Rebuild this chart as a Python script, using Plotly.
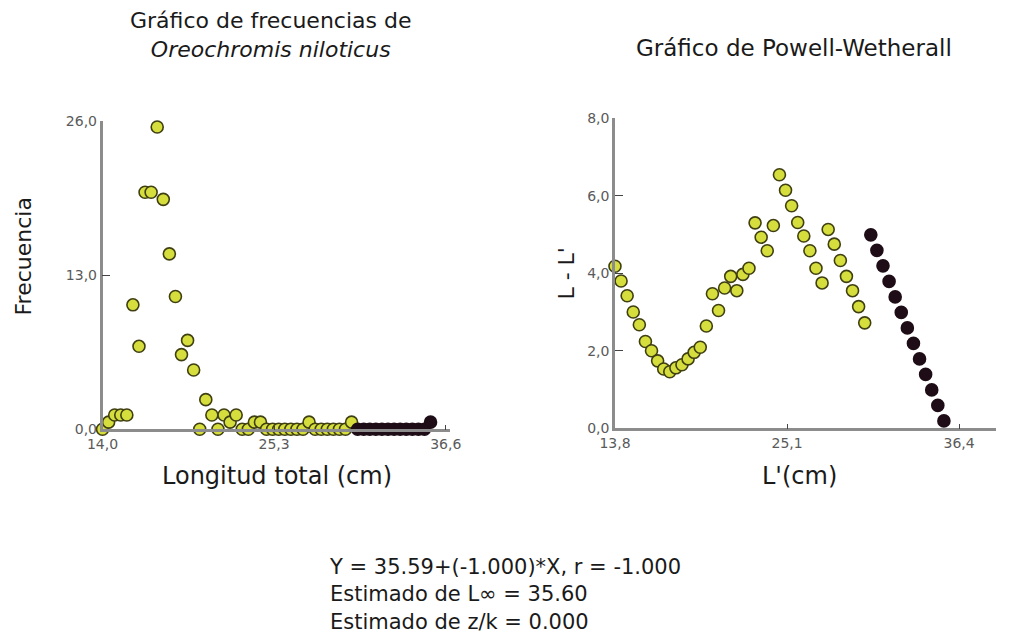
import plotly.graph_objects as go

W, H = 1013, 644

# Length-frequency sample of Oreochromis niloticus (class midpoints, cm)
class_mid = [14.0, 14.4, 14.8, 15.2, 15.6, 16.0, 16.4, 16.8, 17.2, 17.6,
             18.0, 18.4, 18.8, 19.2, 19.6, 20.0, 20.4, 20.8, 21.2, 21.6,
             22.0, 22.4, 22.8, 23.2, 23.6, 24.0, 24.4, 24.8, 25.2, 25.6,
             26.0, 26.4, 26.8, 27.2, 27.6, 28.0, 28.4, 28.8, 29.2, 29.6,
             30.0, 30.4, 30.8, 31.2, 31.6, 32.0, 32.4, 32.8, 33.2, 33.6,
             34.0, 34.4, 34.8, 35.2, 35.6]
frequency = [0.0, 0.6, 1.2, 1.2, 1.2, 10.5, 7.0, 20.0, 20.0, 25.5,
             19.4, 14.8, 11.2, 6.3, 7.5, 5.0, 0.0, 2.5, 1.2, 0.0,
             1.2, 0.6, 1.2, 0.0, 0.0, 0.6, 0.6, 0.0, 0.0, 0.0,
             0.0, 0.0, 0.0, 0.0, 0.6, 0.0, 0.0, 0.0, 0.0, 0.0,
             0.0, 0.6, 0.0, 0.0, 0.0, 0.0, 0.0, 0.0, 0.0, 0.0,
             0.0, 0.0, 0.0, 0.0, 0.6]

# Powell-Wetherall: lower class limit L' and (mean length above L') - L'
l_prime = [13.8, 14.2, 14.6, 15.0, 15.4, 15.8, 16.2, 16.6, 17.0, 17.4,
           17.8, 18.2, 18.6, 19.0, 19.4, 19.8, 20.2, 20.6, 21.0, 21.4,
           21.8, 22.2, 22.6, 23.0, 23.4, 23.8, 24.2, 24.6, 25.0, 25.4,
           25.8, 26.2, 26.6, 27.0, 27.4, 27.8, 28.2, 28.6, 29.0, 29.4,
           29.8, 30.2, 30.6, 31.0, 31.4, 31.8, 32.2, 32.6, 33.0, 33.4,
           33.8, 34.2, 34.6, 35.0, 35.4]
l_minus_lprime = [4.18, 3.80, 3.42, 3.00, 2.67, 2.24, 2.00, 1.74, 1.53, 1.46,
                  1.56, 1.64, 1.79, 1.96, 2.09, 2.64, 3.47, 3.04, 3.62, 3.92,
                  3.55, 3.97, 4.13, 5.30, 4.93, 4.58, 5.23, 6.54, 6.14, 5.74,
                  5.31, 4.96, 4.58, 4.13, 3.75, 5.13, 4.75, 4.33, 3.92, 3.55,
                  3.14, 2.72, 4.99, 4.59, 4.19, 3.79, 3.39, 2.99, 2.59, 2.19,
                  1.79, 1.39, 0.99, 0.59, 0.19]

# First class included in the regression (drawn in black)
reg_start = 42

left_xticks = [14.0, 25.3, 36.6]
left_xtext = ["14,0", "25,3", "36,6"]
left_yticks = [0, 13, 26]
left_ytext = ["0,0", "13,0", "26,0"]
right_xticks = [13.8, 25.1, 36.4]
right_xtext = ["13,8", "25,1", "36,4"]
right_yticks = [0, 2, 4, 6, 8]
right_ytext = ["0,0", "2,0", "4,0", "6,0", "8,0"]

fit_lines = ["Y = 35.59+(-1.000)*X, r = -1.000",
             "Estimado de L\u221e = 35.60",
             "Estimado de z/k = 0.000"]

FONT = "DejaVu Sans"
YELLOW = "#d5de3c"
YELLOW_EDGE = "#3f3f12"
DARK = "#1e0c16"


def px(x):
    return x / W


def py(y):
    return 1 - y / H


def marker(fill, edge):
    return dict(size=12, color=fill, line=dict(color=edge, width=1.6))


fig = go.Figure()
fig.add_trace(go.Scatter(x=class_mid[:reg_start], y=frequency[:reg_start],
                         mode="markers", marker=marker(YELLOW, YELLOW_EDGE),
                         cliponaxis=False, xaxis="x", yaxis="y"))
fig.add_trace(go.Scatter(x=class_mid[reg_start:], y=frequency[reg_start:],
                         mode="markers", marker=marker(DARK, DARK),
                         cliponaxis=False, xaxis="x", yaxis="y"))
fig.add_trace(go.Scatter(x=l_prime[:reg_start], y=l_minus_lprime[:reg_start],
                         mode="markers", marker=marker(YELLOW, YELLOW_EDGE),
                         cliponaxis=False, xaxis="x2", yaxis="y2"))
fig.add_trace(go.Scatter(x=l_prime[reg_start:], y=l_minus_lprime[reg_start:],
                         mode="markers", marker=marker(DARK, DARK),
                         cliponaxis=False, xaxis="x2", yaxis="y2"))

axis_common = dict(showline=True, linecolor="#8c8c8c", linewidth=2.5,
                   showgrid=False, zeroline=False, ticks="inside",
                   tickcolor="#444444", tickwidth=1,
                   tickfont=dict(family=FONT, size=14, color="#5a5a5a"))

fig.update_layout(
    width=W, height=H,
    margin=dict(l=0, r=0, t=0, b=0),
    paper_bgcolor="white", plot_bgcolor="white",
    showlegend=False,
    xaxis=dict(domain=[px(89), px(446)], range=[14.0, 36.86],
               tickvals=left_xticks, ticktext=left_xtext, ticklen=5,
               anchor="y", **axis_common),
    yaxis=dict(domain=[py(432), py(116)], range=[0, 26],
               tickvals=left_yticks, ticktext=left_ytext, ticklen=8,
               anchor="x", **axis_common),
    xaxis2=dict(domain=[px(616), px(1008)], range=[13.8, 38.83],
                tickvals=right_xticks, ticktext=right_xtext, ticklen=5,
                anchor="y2", **axis_common),
    yaxis2=dict(domain=[py(431), py(113)], range=[0, 8],
                tickvals=right_yticks, ticktext=right_ytext, ticklen=8,
                anchor="x2", **axis_common),
)

labels = [
    dict(x=262, y=28, text="Gráfico de frecuencias de<br><i>Oreochromis niloticus</i>",
         size=22, angle=0),
    dict(x=800, y=41, text="Gráfico de Powell-Wetherall", size=23, angle=0),
    dict(x=268, y=480, text="Longitud total (cm)", size=24, angle=0),
    dict(x=806, y=480, text="L'(cm)", size=24, angle=0),
    dict(x=8, y=255, text="Frecuencia", size=22, angle=-90),
    dict(x=566, y=272, text="L - L'", size=22, angle=-90),
]
for a in labels:
    fig.add_annotation(x=px(a["x"]), y=py(a["y"]), xref="paper", yref="paper",
                       text=a["text"], showarrow=False, textangle=a["angle"],
                       xanchor="center", yanchor="middle", align="center",
                       font=dict(family=FONT, size=a["size"], color="#1a1a1a"))

# Regression summary, one block of left-aligned lines
fig.add_annotation(x=px(320), y=py(601), xref="paper", yref="paper",
                   text="<br>".join(fit_lines), showarrow=False,
                   xanchor="left", yanchor="middle", align="left",
                   font=dict(family=FONT, size=21, color="#1a1a1a"))

fig.write_html("out.html")
